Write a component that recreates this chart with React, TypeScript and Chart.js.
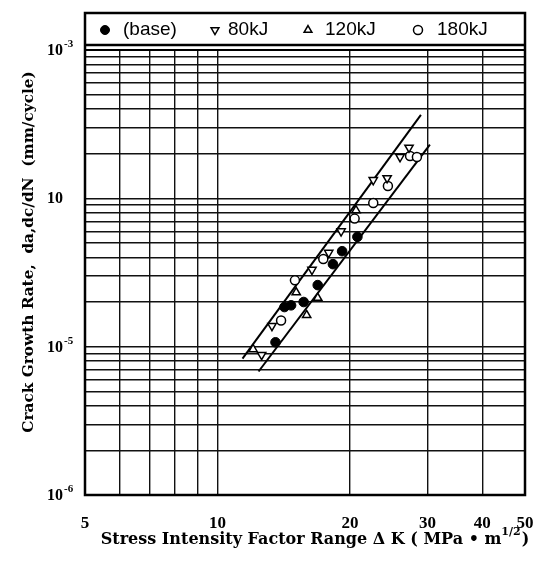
import React, { useEffect, useRef } from 'react';
import { Chart, registerables } from 'chart.js';

Chart.register(...registerables);

// ---- data (ΔK in MPa·m^1/2, da/dN in mm/cycle) ----
const baseK = [20.8, 19.2, 18.3, 16.9, 15.7, 14.7, 14.2, 13.55];
const baseRate = [5.5e-5, 4.4e-5, 3.6e-5, 2.6e-5, 2.0e-5, 1.9e-5, 1.85e-5, 1.07e-5];
const kj80K = [26.0, 27.25, 24.3, 22.6, 19.1, 17.9, 16.4, 13.3, 12.6];
const kj80Rate = [1.9e-4, 2.2e-4, 1.37e-4, 1.33e-4, 6.0e-5, 4.3e-5, 3.3e-5, 1.38e-5, 8.8e-6];
const kj120K = [20.65, 16.9, 15.1, 15.95, 12.05];
const kj120Rate = [8.3e-5, 2.13e-5, 2.32e-5, 1.63e-5, 9.6e-6];
const kj180K = [27.4, 28.4, 24.4, 22.6, 20.5, 17.4, 15.0, 13.95];
const kj180Rate = [1.93e-4, 1.9e-4, 1.21e-4, 9.3e-5, 7.3e-5, 3.9e-5, 2.8e-5, 1.5e-5];
const upperLineK = [11.4, 29.0];
const upperLineRate = [8.3e-6, 3.65e-4];
const lowerLineK = [12.4, 30.4];
const lowerLineRate = [6.8e-6, 2.3e-4];

const seriesLabels = ['(base)', '80kJ', '120kJ', '180kJ'];

const xTickValues = [5, 6, 7, 8, 9, 10, 20, 30, 40, 50];
const xTickLabels = ['5', '10', '20', '30', '40', '50'];
const yDecades = [1e-6, 1e-5, 1e-4];
const yMultipliers = [1, 2, 3, 4, 5, 6, 7, 8, 9];
const yLabelValues = [1e-3, 1e-4, 1e-5, 1e-6];
const yLabelBase = ['10', '10', '10', '10'];
const yLabelExp = ['-3', '', '-5', '-6'];

const yTitle = 'Crack Growth Rate,  da,dc/dN  (mm/cycle)';
const xTitleMain = 'Stress Intensity Factor Range \u0394 K ( MPa \u2022 m';
const xTitleSup = '1/2';
const xTitleEnd = ')';

const pts = (xs: number[], ys: number[]) => xs.map((x, i) => ({ x, y: ys[i] }));

const SERIF = '"Liberation Serif", "Times New Roman", serif';
const WIDE_SERIF = '"DejaVu Serif", serif';
const SANS = '"Liberation Sans", Arial, sans-serif';

function drawMarker(ctx: CanvasRenderingContext2D, ds: any, x: number, y: number, r: number) {
  ctx.save();
  ctx.beginPath();
  if (ds.pointStyle === 'circle') {
    ctx.arc(x, y, r, 0, Math.PI * 2);
  } else {
    const rot = ((ds.pointRotation || 0) * Math.PI) / 180;
    for (let k = 0; k < 3; k++) {
      const a = rot + (k * 2 * Math.PI) / 3;
      const px = x + Math.sin(a) * r;
      const py = y - Math.cos(a) * r;
      if (k === 0) ctx.moveTo(px, py);
      else ctx.lineTo(px, py);
    }
    ctx.closePath();
  }
  ctx.fillStyle = ds.backgroundColor;
  ctx.fill();
  ctx.lineWidth = ds.borderWidth;
  ctx.strokeStyle = ds.borderColor;
  ctx.stroke();
  ctx.restore();
}

const decorPlugin = {
  id: 'decor',
  afterDraw(chart: any) {
    const { ctx, chartArea: a } = chart;
    const yScale = chart.scales.y;
    const legendTop = 13;
    const legendBottom = 45;
    ctx.save();
    // frame + legend box
    ctx.strokeStyle = '#000';
    ctx.lineWidth = 2.5;
    ctx.strokeRect(a.left, legendTop, a.right - a.left, a.bottom - legendTop);
    ctx.beginPath();
    ctx.moveTo(a.left, legendBottom);
    ctx.lineTo(a.right, legendBottom);
    ctx.stroke();
    ctx.lineWidth = 2;
    ctx.beginPath();
    ctx.moveTo(a.left, a.top);
    ctx.lineTo(a.right, a.top);
    ctx.stroke();

    // legend
    const markerOffsets = [20, 130, 223, 333];
    const textOffsets = [38, 143, 240, 352];
    const ly = (legendTop + legendBottom) / 2 + 1;
    ctx.font = `19px ${SANS}`;
    ctx.fillStyle = '#000';
    ctx.textBaseline = 'middle';
    ctx.textAlign = 'left';
    seriesLabels.forEach((label, i) => {
      const ds = chart.data.datasets[i];
      drawMarker(ctx, ds, a.left + markerOffsets[i], ly, 4.5);
      ctx.fillStyle = '#000';
      ctx.fillText(label, a.left + textOffsets[i], ly);
    });

    // y tick labels with superscripts
    yLabelValues.forEach((v, i) => {
      const py = yScale.getPixelForValue(v);
      const baseRight = a.left - 22;
      ctx.font = `bold 16px ${SERIF}`;
      ctx.textAlign = 'right';
      ctx.textBaseline = 'middle';
      ctx.fillText(yLabelBase[i], baseRight, py + 1);
      if (yLabelExp[i]) {
        ctx.font = `bold 11px ${SERIF}`;
        ctx.textAlign = 'left';
        ctx.fillText(yLabelExp[i], baseRight + 1, py - 6);
      }
    });

    // y title
    ctx.save();
    ctx.translate(29, 252);
    ctx.rotate(-Math.PI / 2);
    ctx.font = `bold 15.3px ${WIDE_SERIF}`;
    ctx.textAlign = 'center';
    ctx.textBaseline = 'middle';
    ctx.fillText(yTitle, 0, 0);
    ctx.restore();

    // x title with superscript
    const mainFont = `bold 16px ${WIDE_SERIF}`;
    const supFont = `bold 11px ${WIDE_SERIF}`;
    ctx.font = mainFont;
    const w1 = ctx.measureText(xTitleMain).width;
    const w3 = ctx.measureText(xTitleEnd).width;
    ctx.font = supFont;
    const w2 = ctx.measureText(xTitleSup).width;
    const total = w1 + w2 + w3 + 1;
    const cx = 315;
    const ty = 538;
    const x0 = cx - total / 2;
    ctx.textAlign = 'left';
    ctx.textBaseline = 'alphabetic';
    ctx.font = mainFont;
    ctx.fillText(xTitleMain, x0, ty + 6);
    ctx.font = supFont;
    ctx.fillText(xTitleSup, x0 + w1, ty - 3);
    ctx.font = mainFont;
    ctx.fillText(xTitleEnd, x0 + w1 + w2 + 1, ty + 6);
    ctx.restore();
  },
};

export default function App() {
  const canvasRef = useRef<HTMLCanvasElement | null>(null);

  useEffect(() => {
    if (!canvasRef.current) return;
    const yTickValues: number[] = [];
    yDecades.forEach((d) => yMultipliers.forEach((m) => yTickValues.push(m * d)));
    yTickValues.push(1e-3);

    const gridY = { color: '#111', lineWidth: 1.4, drawTicks: false };
    const gridX = { color: '#111', lineWidth: 1.4, drawTicks: true, tickLength: 15, tickColor: 'rgba(0,0,0,0)' };

    const chart = new Chart(canvasRef.current, {
      type: 'scatter',
      data: {
        datasets: [
          {
            label: seriesLabels[0],
            data: pts(baseK, baseRate),
            pointStyle: 'circle',
            pointRadius: 4.8,
            backgroundColor: '#000',
            borderColor: '#000',
            borderWidth: 1,
          },
          {
            label: seriesLabels[1],
            data: pts(kj80K, kj80Rate),
            pointStyle: 'triangle',
            pointRotation: 180,
            pointRadius: 4.8,
            backgroundColor: '#fff',
            borderColor: '#000',
            borderWidth: 1.5,
          },
          {
            label: seriesLabels[2],
            data: pts(kj120K, kj120Rate),
            pointStyle: 'triangle',
            pointRotation: 0,
            pointRadius: 4.8,
            backgroundColor: '#fff',
            borderColor: '#000',
            borderWidth: 1.5,
          },
          {
            label: seriesLabels[3],
            data: pts(kj180K, kj180Rate),
            pointStyle: 'circle',
            pointRadius: 4.5,
            backgroundColor: '#fff',
            borderColor: '#000',
            borderWidth: 1.5,
          },
          {
            label: 'upper',
            data: pts(upperLineK, upperLineRate),
            showLine: true,
            pointRadius: 0,
            borderColor: '#000',
            borderWidth: 2,
            backgroundColor: '#000',
          },
          {
            label: 'lower',
            data: pts(lowerLineK, lowerLineRate),
            showLine: true,
            pointRadius: 0,
            borderColor: '#000',
            borderWidth: 2,
            backgroundColor: '#000',
          },
        ],
      } as any,
      options: {
        animation: false,
        responsive: false,
        devicePixelRatio: 1,
        layout: { padding: { top: 50, right: 12, left: 0, bottom: 0 } },
        plugins: {
          legend: { display: false },
          tooltip: { enabled: false },
          title: { display: false },
        },
        scales: {
          x: {
            type: 'logarithmic',
            min: 5,
            max: 50,
            grid: gridX,
            border: { display: false },
            afterBuildTicks: (s: any) => {
              s.ticks = xTickValues.map((v) => ({ value: v }));
            },
            afterFit: (s: any) => {
              s.height = 72;
            },
            ticks: {
              autoSkip: false,
              maxRotation: 0,
              minRotation: 0,
              padding: 3,
              color: '#000',
              font: { family: SERIF, size: 17, weight: 'bold' },
              callback: (v: any) => (xTickLabels.includes(String(v)) ? String(v) : ''),
            },
          },
          y: {
            type: 'logarithmic',
            min: 1e-6,
            max: 1e-3,
            grid: gridY,
            border: { display: false },
            afterBuildTicks: (s: any) => {
              s.ticks = yTickValues.map((v) => ({ value: v }));
            },
            afterFit: (s: any) => {
              s.width = 85;
            },
            ticks: { display: false },
          },
        },
      } as any,
      plugins: [decorPlugin],
    });
    return () => chart.destroy();
  }, []);

  return (
    <div style={{ position: 'fixed', left: 0, top: 0, width: 537, height: 567, background: '#fff' }}>
      <canvas ref={canvasRef} width={537} height={567} style={{ display: 'block' }} />
    </div>
  );
}
